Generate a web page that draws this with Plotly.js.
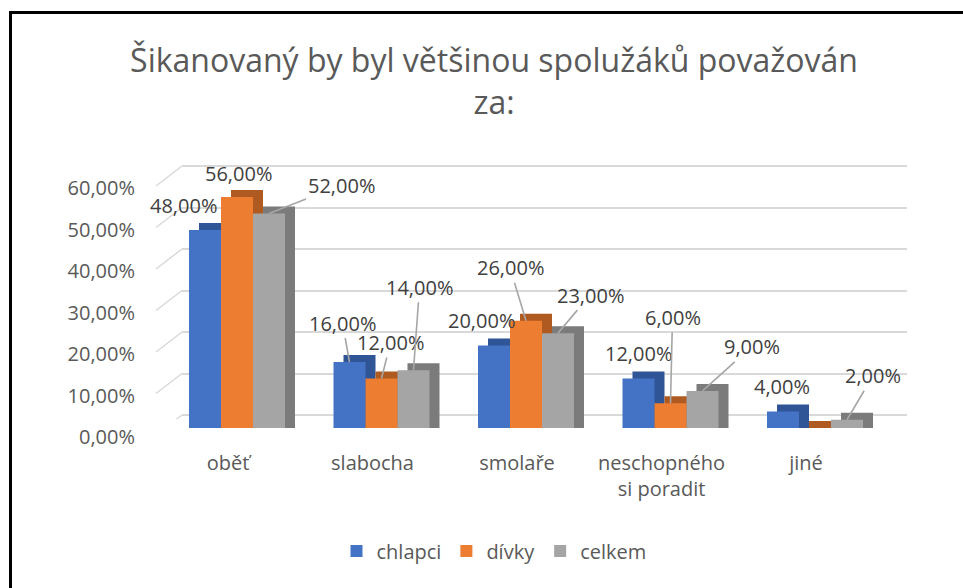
<!DOCTYPE html>
<html>
<head>
<meta charset="utf-8">
<script src="https://cdn.plot.ly/plotly-3.0.1.min.js"></script>
<style>
html,body{margin:0;padding:0;background:#fff;overflow:hidden;}
#chart{width:963px;height:588px;position:absolute;left:0;top:0;}
#frame{position:absolute;left:9px;top:11px;width:1200px;height:1200px;border:3px solid #000;pointer-events:none;}
</style>
</head>
<body>
<div id="chart"></div>
<div id="frame"></div>
<script>
// ---- data ----
const categories = ['oběť', 'slabocha', 'smolaře', 'neschopného<br>si poradit', 'jiné'];
const seriesNames = ['chlapci', 'dívky', 'celkem'];
const chlapci = [48, 16, 20, 12, 4];
const divky = [56, 12, 26, 6, 0];
const celkem = [52, 14, 23, 9, 2];
const yTickValues = [0, 10, 20, 30, 40, 50, 60];

// ---- styling ----
const frontColors = ['#4472C4', '#ED7D31', '#A5A5A5'];
const sideColors = ['#2F5597', '#AE5A21', '#7B7B7B'];
const textColor = '#595959';
const gridColor = '#D9D9D9';
const font = 'Open Sans, Noto Sans, sans-serif';

// pixel geometry
const plotL = 182, plotR = 907, plotT = 150, plotB = 428;
const catPx = 144.5;          // px per category
const firstCatPx = 237;       // px of first category centre
const barPx = 32;             // front bar width
const depthXPx = 10, depthYPx = 7;
const frontPxPerPct = 4.125, backPxPerPct = 4.15, backLiftPx = 13;
const gridPadPct = 1;         // keeps the 0 gridline inside the range
const wallDiagXPx = 26, wallDiagYPx = 20;

const W = 963, H = 588;
const xRange = [(plotL - firstCatPx) / catPx, (plotR - firstCatPx) / catPx];
const barW = barPx / catPx;
const depthDX = depthXPx / catPx;
const depthDY = depthYPx / frontPxPerPct;
const plotH = plotB - plotT;
const gridBottomPx = backLiftPx - gridPadPct * backPxPerPct;

const allSeries = [chlapci, divky, celkem];
const fmt = v => v.toFixed(2).replace('.', ',') + '%';

const traces = [];
// invisible trace so the back-wall (grid) subplot is drawn
traces.push({
  type: 'scatter', mode: 'none', x: categories, y: celkem,
  xaxis: 'x', yaxis: 'y', showlegend: false, hoverinfo: 'skip'
});
// depth (side/top faces) first
allSeries.forEach((vals, i) => {
  traces.push({
    type: 'bar', x: categories, y: vals.map(v => v + depthDY),
    xaxis: 'x2', yaxis: 'y2',
    offset: (i - 1.5) * barW + depthDX, width: barW,
    marker: {color: sideColors[i], line: {width: 0}},
    showlegend: false, hoverinfo: 'skip'
  });
});
// front faces
allSeries.forEach((vals, i) => {
  traces.push({
    type: 'bar', x: categories, y: vals, name: seriesNames[i],
    xaxis: 'x2', yaxis: 'y2',
    offset: (i - 1.5) * barW, width: barW,
    marker: {color: frontColors[i], line: {width: 0}},
    hoverinfo: 'skip'
  });
});

// label offsets (px, label centre relative to bar top centre) and leader flag
const labelStyle = [
  [[-22, -25, 0], [-7, -39, 1], [-13, -25, 0], [0, -25, 0], [-1, -25, 0]],
  [[1, -24, 0], [9, -36, 1], [-16, -53, 1], [2, -86, 1], [0, -25, 0]],
  [[72, -28, 1], [6, -83, 1], [32, -38, 1], [49, -44, 1], [26, -44, 1]]
];
const annotations = [];
allSeries.forEach((vals, i) => {
  vals.forEach((v, j) => {
    if (v === 0) return;
    const [dx, dy, leader] = labelStyle[i][j];
    const sx = (i - 1) * barPx;
    const a = {
      x: categories[j], y: v, xref: 'x2', yref: 'y2',
      text: fmt(v), font: {family: font, size: 20, color: '#404040'}
    };
    if (leader) {
      Object.assign(a, {showarrow: true, xshift: sx, ax: dx, ay: dy,
        arrowhead: 0, arrowwidth: 1.6, arrowcolor: '#A6A6A6', standoff: 0, startstandoff: 0});
    } else {
      Object.assign(a, {showarrow: false, xshift: sx + dx, yshift: -dy});
    }
    annotations.push(a);
  });
});

// side-wall diagonal edges from each back gridline
const shapes = yTickValues.map(v => ({
  type: 'line', xref: 'paper', yref: 'y',
  x0: -wallDiagXPx / (plotR - plotL), y0: v - wallDiagYPx / backPxPerPct,
  x1: 0, y1: v,
  line: {color: gridColor, width: 1.5}, layer: 'below'
}));

const layout = {
  width: W, height: H,
  paper_bgcolor: '#ffffff', plot_bgcolor: 'rgba(0,0,0,0)',
  margin: {l: plotL, r: W - plotR, t: plotT, b: H - plotB, pad: 0},
  separators: ',.',
  barmode: 'overlay',
  title: {
    text: 'Šikanovaný by byl většinou spolužáků považován<br>za:',
    font: {family: font, size: 32, color: textColor},
    xref: 'container', yref: 'container', x: 494 / W, xanchor: 'center',
    y: 1 - 72 / H, yanchor: 'top'
  },
  // back wall gridlines + value labels
  xaxis: {domain: [0, 1], type: 'category', range: xRange, visible: false, anchor: 'y', fixedrange: true},
  yaxis: {
    domain: [gridBottomPx / plotH, 1], anchor: 'x',
    range: [-gridPadPct, (plotB - backLiftPx - plotT) / backPxPerPct],
    tickvals: yTickValues, ticktext: yTickValues.map(fmt),
    showgrid: true, gridcolor: gridColor, gridwidth: 2,
    zeroline: false, showline: false, ticks: '',
    ticklabelshift: 22, ticklabelstandoff: 46,
    tickfont: {family: font, size: 20, color: textColor}, fixedrange: true
  },
  // bars
  xaxis2: {
    domain: [0, 1], anchor: 'y2', type: 'category', range: xRange,
    showgrid: false, zeroline: false, showline: false, ticks: '',
    ticklabelshift: -9, ticklabelstandoff: 21,
    tickfont: {family: font, size: 20, color: textColor}, fixedrange: true
  },
  yaxis2: {
    domain: [0, 1], anchor: 'x2', range: [0, plotH / frontPxPerPct],
    visible: false, showgrid: false, zeroline: false, fixedrange: true
  },
  legend: {
    orientation: 'h', xref: 'container', yref: 'container',
    x: 494 / W, xanchor: 'center', y: 1 - 551 / H, yanchor: 'middle',
    font: {family: font, size: 20, color: textColor},
    itemwidth: 30, traceorder: 'normal', bgcolor: 'rgba(0,0,0,0)'
  },
  shapes: shapes,
  annotations: annotations,
  showlegend: true
};

Plotly.newPlot('chart', traces, layout, {displayModeBar: false, staticPlot: true});
</script>
</body>
</html>
